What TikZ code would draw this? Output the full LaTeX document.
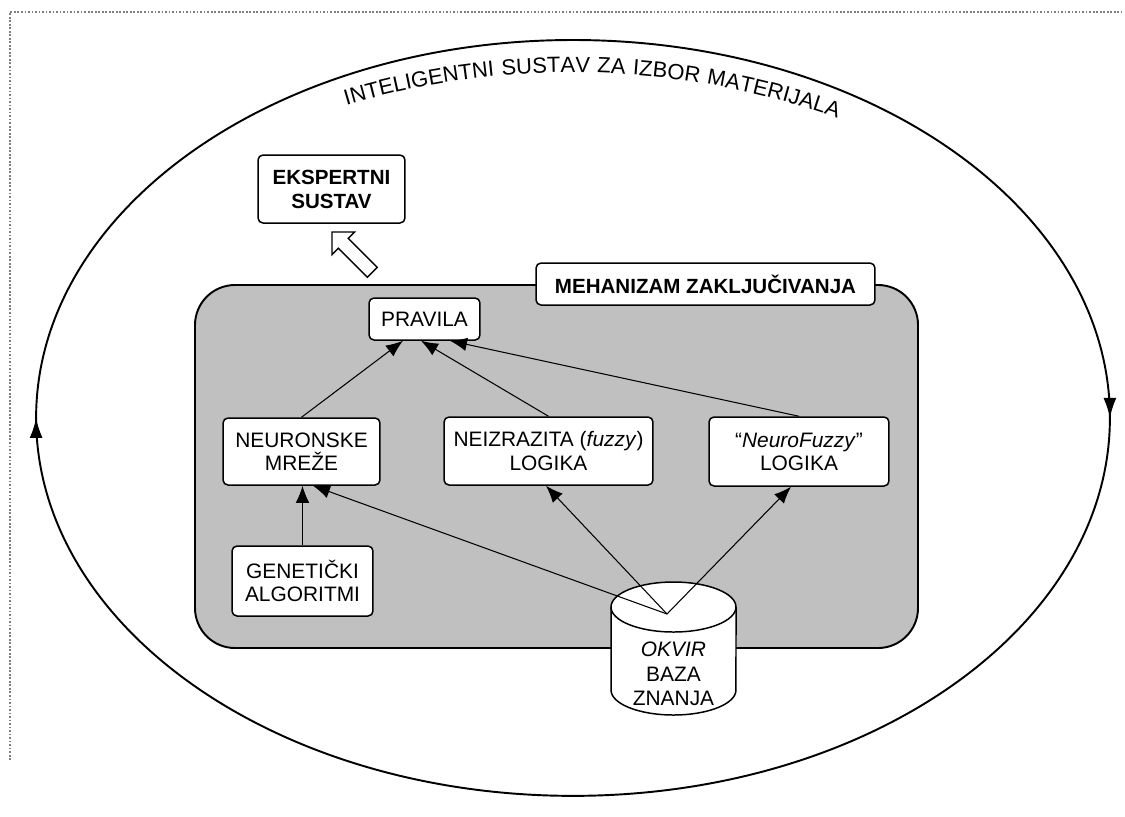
\documentclass[tikz,border=0pt]{standalone}
\usepackage{fontspec}
\setmainfont{Liberation Sans}
\usetikzlibrary{arrows.meta,decorations.markings,decorations.text}
\begin{document}
\begin{tikzpicture}[x=0.02cm,y=-0.02cm,
  box/.style={draw,line width=0.85pt,fill=white,rounded corners=0.1cm,align=center,inner sep=0pt,
    font=\fontsize{11.9}{13.2}\selectfont},
  bbox/.style={box,font=\bfseries\fontsize{11.7}{13.6}\selectfont},
  conn/.style={line width=0.6pt,-{Latex[length=0.34cm,width=0.27cm]}},
  frame/.style={draw=gray,line width=0.8pt,dash pattern=on 1pt off 1pt},
]
\useasboundingbox (0,0) rectangle (1125,816);
% dotted frame
\draw[frame] (10,760) -- (10,12) -- (1122,12);
% big ellipse, clockwise with arrows
\draw[line width=1.1pt,postaction={decorate},
  decoration={markings,
    mark=at position 0.25 with {\arrow{Latex[length=0.4cm,width=0.26cm]}},
    mark=at position 0.75 with {\arrow{Latex[length=0.4cm,width=0.26cm]}}}]
  (573,40) arc[start angle=90,end angle=-270,x radius=10.74cm,y radius=7.56cm];
% curved title
\path[font=\fontsize{12.5}{14}\selectfont,decorate,
  decoration={text along path,text align=fit to path stretching spaces,
  text={|\fontsize{12.5}{14}\selectfont|INTELIGENTNI SUSTAV ZA IZBOR MATERIJALA}}]
  (346.4,105.2) arc[start angle=106.5,end angle=70.5,radius=15.89cm];
% mechanism container
\draw[line width=1.1pt,fill={rgb,255:red,192;green,192;blue,192},rounded corners=0.8cm]
  (195,285) rectangle (918,648);
\node[bbox,minimum width=6.78cm,minimum height=0.84cm] (meh) at (705.5,284) {MEHANIZAM ZAKLJUČIVANJA};
% expert system
\node[bbox,minimum width=2.94cm,minimum height=1.36cm] (eks) at (331.5,189) {EKSPERTNI\\SUSTAV};
\draw[line width=0.8pt,fill=white]
  (332,232) -- (354.6,232) -- (348.2,238.4) -- (377.2,267.4) -- (367.4,277.2)
  -- (338.4,248.2) -- (332,254.6) -- cycle;
% inner nodes
\node[box,minimum width=2.22cm,minimum height=0.84cm] (prav) at (424.5,319) {PRAVILA};
\node[box,minimum width=3.14cm,minimum height=1.34cm] (neur) at (301.5,451.5) {NEURONSKE\\MREŽE};
\node[box,minimum width=4.18cm,minimum height=1.36cm] (neiz) at (548.5,451) {NEIZRAZITA (\textit{fuzzy})\\LOGIKA};
\node[box,minimum width=3.6cm,minimum height=1.38cm] (nf) at (799,451.5) {“\textit{NeuroFuzzy}”\\LOGIKA};
\node[box,minimum width=2.82cm,minimum height=1.4cm] (gen) at (302.5,581) {GENETIČKI\\ALGORITMI};
% knowledge base cylinder
\draw[line width=0.85pt,fill=white] (611,607) -- (611,690)
  arc[start angle=180,end angle=360,x radius=1.25cm,y radius=0.5cm] -- (736,607);
\draw[line width=0.85pt,fill=white] (673.5,607) ellipse[x radius=1.25cm,y radius=0.5cm];
\node[align=center,inner sep=0pt,font=\fontsize{11.9}{13.9}\selectfont] (kbtext) at (673.5,674)
  {\textit{OKVIR}\\BAZA\\ZNANJA};
\coordinate (kb) at (667,614);
% connectors
\draw[conn] (neur.north) -- ([xshift=-0.43cm]prav.south);
\draw[conn] (neiz.north) -- ([xshift=-0.07cm]prav.south);
\draw[conn] (nf.north) -- ([xshift=0.51cm]prav.south);
\draw[conn] (gen.north) -- (gen.north |- neur.south);
\draw[conn] (kb) -- ([xshift=0.23cm]neur.south);
\draw[conn] (kb) -- ([xshift=-0.05cm]neiz.south);
\draw[conn] (kb) -- ([xshift=-0.16cm]nf.south);
\end{tikzpicture}
\end{document}
